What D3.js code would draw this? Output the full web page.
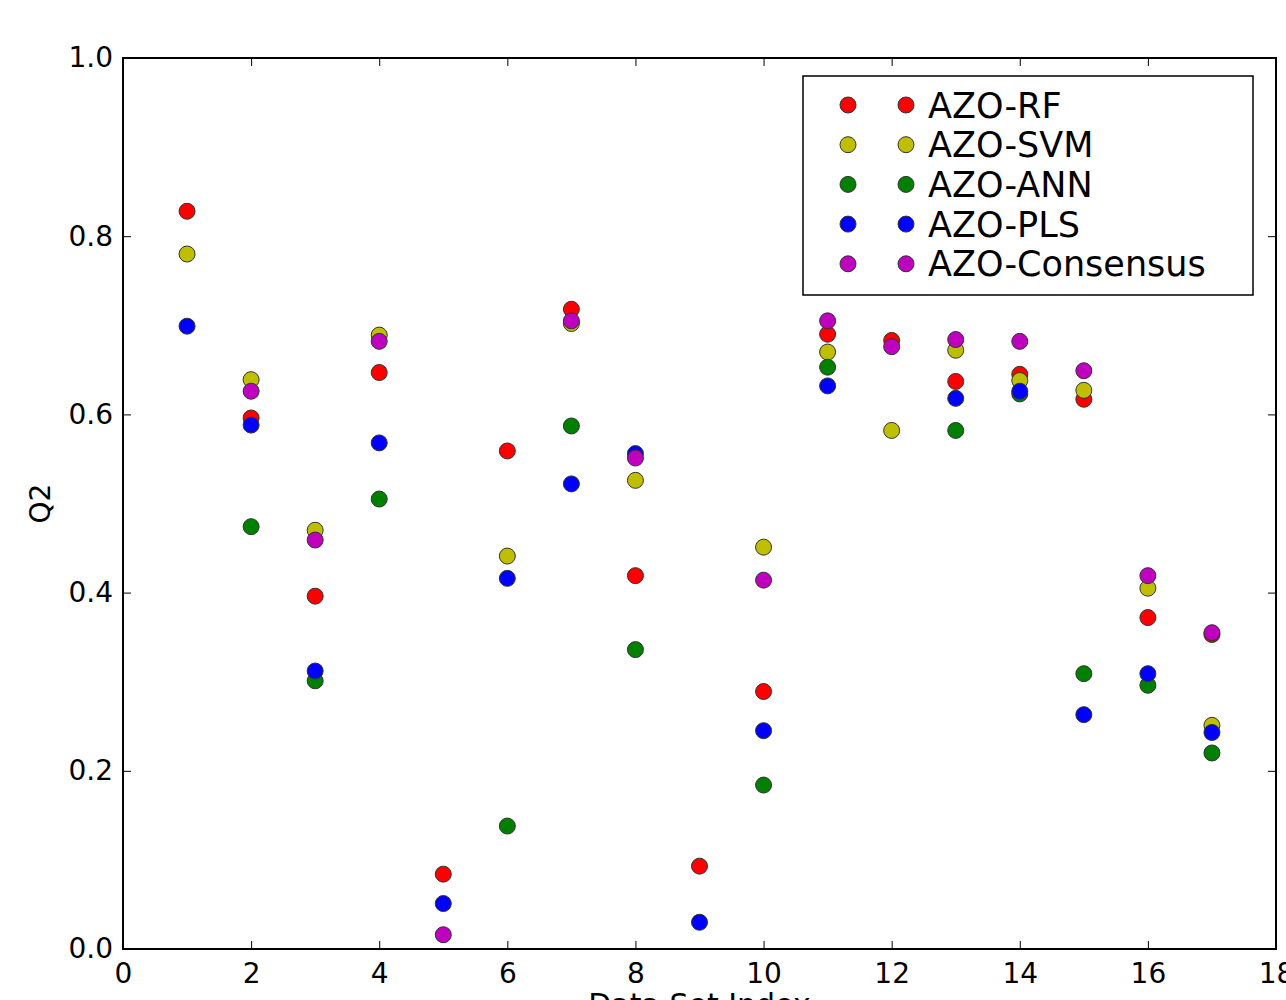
<!DOCTYPE html>
<html>
<head>
<meta charset="utf-8">
<script src="https://cdn.jsdelivr.net/npm/d3@7"></script>
<style>
  body { margin: 0; background: #fff; }
  svg { font-family: "DejaVu Sans", sans-serif; }
</style>
</head>
<body>
<div id="chart"></div>
<script>
// Data set index (1..17), Q2 per model; null = not shown on the plot
const dataSets = d3.range(1, 18);
const seriesNames = ["AZO-RF", "AZO-SVM", "AZO-ANN", "AZO-PLS", "AZO-Consensus"];
const seriesColors = ["#ff0000", "#bfbf00", "#008000", "#0000ff", "#bf00bf"];

const rf        = [0.828, 0.596, 0.396, 0.647, 0.084, 0.559, 0.718, 0.419, 0.093, 0.289, 0.690, 0.683, 0.637, 0.645, 0.617, 0.372, 0.353];
const svm       = [0.780, 0.639, 0.470, 0.689, null,  0.441, 0.702, 0.526, null,  0.451, 0.670, 0.582, 0.672, 0.638, 0.627, 0.405, 0.251];
const ann       = [null,  0.474, 0.301, 0.505, null,  0.138, 0.587, 0.336, null,  0.184, 0.653, null,  0.582, 0.623, 0.309, 0.296, 0.220];
const pls       = [0.699, 0.588, 0.312, 0.568, 0.051, 0.416, 0.522, 0.556, 0.030, 0.245, 0.632, null,  0.618, 0.626, 0.263, 0.309, 0.243];
const consensus = [null,  0.626, 0.459, 0.682, 0.016, null,  0.705, 0.551, null,  0.414, 0.705, 0.676, 0.684, 0.682, 0.649, 0.419, 0.355];

const seriesValues = [rf, svm, ann, pls, consensus];

const xTicks = [0, 2, 4, 6, 8, 10, 12, 14, 16, 18];
const yTicks = [0.0, 0.2, 0.4, 0.6, 0.8, 1.0];

const width = 1286, height = 1000;
const plot = { left: 123, top: 58, right: 1276, bottom: 949 };

const svg = d3.select("#chart").append("svg")
  .attr("width", width)
  .attr("height", height);

const x = d3.scaleLinear().domain([0, 18]).range([plot.left, plot.right]);
const y = d3.scaleLinear().domain([0, 1]).range([plot.bottom, plot.top]);

// points, drawn in series order so later ones sit on top
seriesValues.forEach((vals, si) => {
  const pts = dataSets.map((d, i) => ({ x: d, y: vals[i] })).filter(p => p.y !== null);
  svg.append("g")
    .selectAll("circle")
    .data(pts)
    .enter().append("circle")
    .attr("cx", d => x(d.x))
    .attr("cy", d => y(d.y))
    .attr("r", 8)
    .attr("fill", seriesColors[si])
    .attr("stroke", "#333")
    .attr("stroke-width", 1);
});

// axes (ticks inside, on all four sides)
const tickLen = 8;
const fmtY = d3.format(".1f");

const bottomAxis = svg.append("g")
  .attr("transform", `translate(0,${plot.bottom})`)
  .call(d3.axisBottom(x).tickValues(xTicks).tickSizeInner(-tickLen).tickSizeOuter(0).tickPadding(14));
const topAxis = svg.append("g")
  .attr("transform", `translate(0,${plot.top})`)
  .call(d3.axisTop(x).tickValues(xTicks).tickSizeInner(-tickLen).tickSizeOuter(0).tickFormat(""));
const leftAxis = svg.append("g")
  .attr("transform", `translate(${plot.left},0)`)
  .call(d3.axisLeft(y).tickValues(yTicks).tickFormat(fmtY).tickSizeInner(-tickLen).tickSizeOuter(0).tickPadding(10));
const rightAxis = svg.append("g")
  .attr("transform", `translate(${plot.right},0)`)
  .call(d3.axisRight(y).tickValues(yTicks).tickSizeInner(-tickLen).tickSizeOuter(0).tickFormat(""));

[bottomAxis, topAxis, leftAxis, rightAxis].forEach(g => {
  g.select(".domain").remove();
  g.selectAll(".tick line").attr("stroke", "#000").attr("stroke-width", 1);
  g.selectAll(".tick text")
    .attr("font-family", "DejaVu Sans, sans-serif")
    .attr("font-size", 28)
    .attr("fill", "#000");
});

// frame
svg.append("rect")
  .attr("x", plot.left).attr("y", plot.top)
  .attr("width", plot.right - plot.left)
  .attr("height", plot.bottom - plot.top)
  .attr("fill", "none")
  .attr("stroke", "#000")
  .attr("stroke-width", 2);

// axis labels
svg.append("text")
  .attr("x", (plot.left + plot.right) / 2)
  .attr("y", 1015)
  .attr("text-anchor", "middle")
  .attr("font-size", 30)
  .text("Data Set Index");

svg.append("text")
  .attr("transform", `translate(50,${(plot.top + plot.bottom) / 2}) rotate(-90)`)
  .attr("text-anchor", "middle")
  .attr("font-size", 28)
  .text("Q2");

// legend
const legend = svg.append("g");
legend.append("rect")
  .attr("x", 803).attr("y", 76)
  .attr("width", 450).attr("height", 219)
  .attr("fill", "#fff")
  .attr("stroke", "#000")
  .attr("stroke-width", 1.5);

const rows = legend.selectAll("g.row")
  .data(seriesNames)
  .enter().append("g")
  .attr("class", "row")
  .attr("transform", (d, i) => `translate(0,${105 + i * 39.7})`);

[848, 906].forEach(cx => {
  rows.append("circle")
    .attr("cx", cx).attr("cy", 0).attr("r", 8)
    .attr("fill", (d, i) => seriesColors[i])
    .attr("stroke", "#333")
    .attr("stroke-width", 1);
});

rows.append("text")
  .attr("x", 928)
  .attr("y", 0)
  .attr("dy", "0.36em")
  .attr("font-size", 35)
  .text(d => d);
</script>
</body>
</html>
